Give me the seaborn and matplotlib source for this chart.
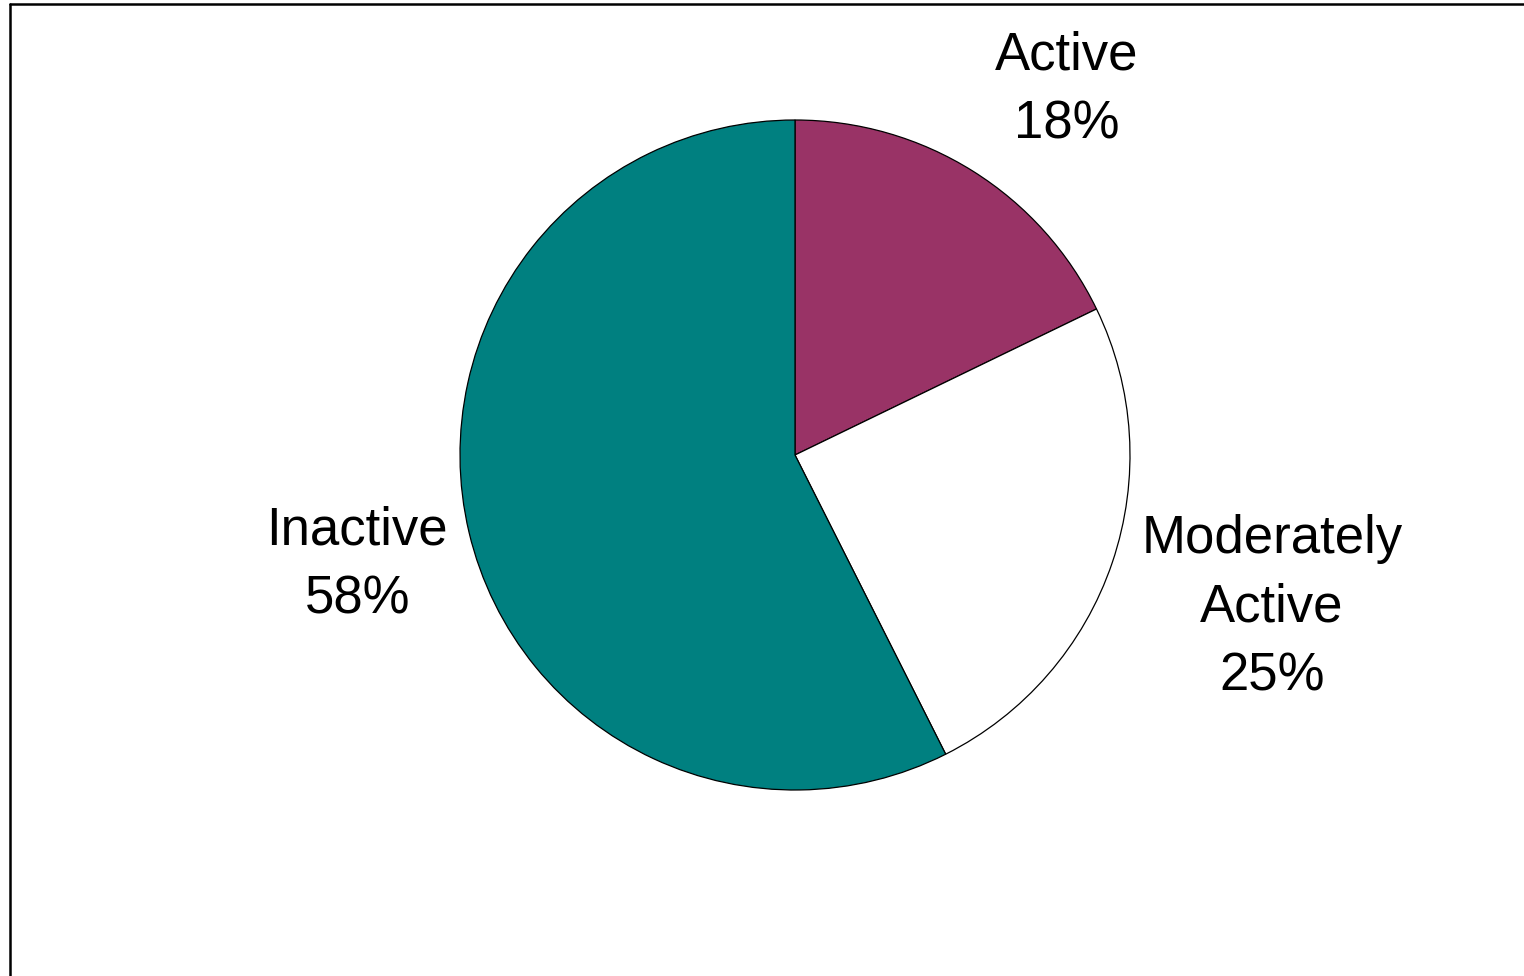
import matplotlib
matplotlib.use("Agg")
import matplotlib.pyplot as plt
from matplotlib.lines import Line2D
import seaborn as sns

# Physical activity levels
categories = ["Active", "Moderately\nActive", "Inactive"]
shares = [18, 25, 58]
slice_colors = ["#993366", "#FFFFFF", "#008080"]

sns.set_theme(style="white")
plt.rcParams["font.family"] = ["Liberation Sans", "DejaVu Sans"]

W, H = 1524, 976
fig = plt.figure(figsize=(W / 100, H / 100), dpi=100)
fig.patch.set_facecolor("white")

# square axes holding the pie (radius 1 in data units)
cx, cy, r = 795, 455, 335
ax = fig.add_axes([(cx - r) / W, (H - cy - r) / H, 2 * r / W, 2 * r / H])
ax.pie(shares, colors=slice_colors, startangle=90, counterclock=False,
       radius=1.0, wedgeprops=dict(edgecolor="black", linewidth=0.9))
ax.set_xlim(-1, 1)
ax.set_ylim(-1, 1)
ax.set_aspect("equal")
ax.axis("off")

label_pos = [(0.812, 1.09), (1.424, -0.455), (-1.307, -0.328)]
for name, val, (x, y) in zip(categories, shares, label_pos):
    ax.text(x, y, f"{name}\n{val}%", ha="center", va="center",
            fontsize=38, linespacing=1.48, color="black", clip_on=False)

# partial frame along the left and top edges
fig.add_artist(Line2D([10 / W, 10 / W], [0, 1 - 4 / H], transform=fig.transFigure,
                      color="black", linewidth=1.8))
fig.add_artist(Line2D([10 / W, 1], [1 - 4 / H, 1 - 4 / H], transform=fig.transFigure,
                      color="black", linewidth=1.8))

fig.savefig("out.png", dpi=100, facecolor="white")
